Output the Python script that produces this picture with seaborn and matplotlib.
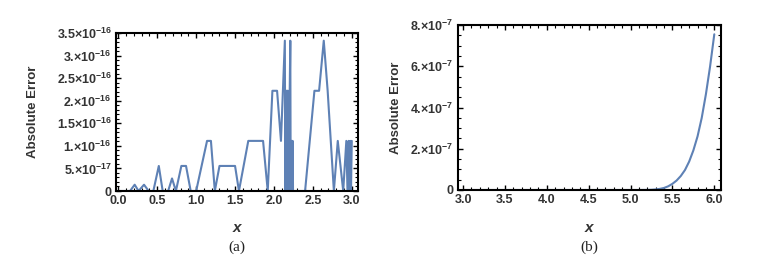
import numpy as np
import pandas as pd
import matplotlib
matplotlib.use("Agg")
import matplotlib.pyplot as plt
import seaborn as sns
from matplotlib.ticker import MultipleLocator

# ---- data (a): absolute error, x in [0,3], values in units of 1e-16
xa = [0.0, 0.15, 0.21, 0.26, 0.33, 0.39, 0.45, 0.52, 0.57, 0.64, 0.69, 0.74,
      0.81, 0.87, 0.93, 1.0, 1.14, 1.19, 1.24, 1.30, 1.50, 1.55, 1.67, 1.86,
      1.92, 1.98, 2.04, 2.09, 2.14, 2.145, 2.15, 2.155, 2.16, 2.165, 2.17,
      2.175, 2.18, 2.185, 2.19, 2.195, 2.21, 2.215, 2.22, 2.225, 2.23, 2.235,
      2.24, 2.245, 2.40, 2.52, 2.58, 2.64, 2.69, 2.77, 2.82, 2.89, 2.93,
      2.945, 2.96, 2.97, 2.98, 2.99, 3.0]
ya = [0, 0, 0.139, 0, 0.139, 0, 0, 0.555, 0, 0, 0.278, 0,
      0.555, 0.555, 0, 0, 1.11, 1.11, 0, 0.555, 0.555, 0, 1.11, 1.11,
      0, 2.22, 2.22, 1.11, 3.33, 0, 2.22, 0, 2.22, 0, 2.22,
      0, 2.22, 1.11, 0, 1.11, 3.33, 0, 1.11, 0, 1.11, 0,
      1.11, 0, 0, 2.22, 2.22, 3.33, 2.22, 0, 1.11, 0, 1.11,
      0, 1.11, 0, 1.11, 0, 1.11]
scale_a = 1e-16

# ---- data (b): absolute error, x in [3,6], values in units of 1e-7
xb = [3.0, 3.5, 4.0, 4.5, 5.0, 5.1, 5.2, 5.25, 5.3, 5.35, 5.4, 5.45, 5.5,
      5.55, 5.6, 5.65, 5.7, 5.75, 5.8, 5.85, 5.9, 5.95, 6.0]
yb = [0, 0, 0, 0, 0, 0.0003, 0.005, 0.012, 0.028, 0.055, 0.1, 0.18, 0.3,
      0.46, 0.68, 0.97, 1.38, 1.92, 2.6, 3.5, 4.65, 6.0, 7.55]
scale_b = 1e-7

ytick_a = [0, 0.5, 1.0, 1.5, 2.0, 2.5, 3.0, 3.5]
ytick_a_labels = ["0", r"5.$\times$10$^{-17}$", r"1.$\times$10$^{-16}$",
                  r"1.5$\times$10$^{-16}$", r"2.$\times$10$^{-16}$",
                  r"2.5$\times$10$^{-16}$", r"3.$\times$10$^{-16}$",
                  r"3.5$\times$10$^{-16}$"]
xtick_a = [0.0, 0.5, 1.0, 1.5, 2.0, 2.5, 3.0]
ytick_b = [0, 2, 4, 6, 8]
ytick_b_labels = ["0", r"2.$\times$10$^{-7}$", r"4.$\times$10$^{-7}$",
                  r"6.$\times$10$^{-7}$", r"8.$\times$10$^{-7}$"]
xtick_b = [3.0, 3.5, 4.0, 4.5, 5.0, 5.5, 6.0]

df_a = pd.DataFrame({"x": xa, "y": np.array(ya) * scale_a})
df_b = pd.DataFrame({"x": xb, "y": np.array(yb) * scale_b})

sns.set_style("white")
plt.rcParams["font.family"] = ["Liberation Sans", "DejaVu Sans"]
plt.rcParams["mathtext.fontset"] = "custom"
plt.rcParams["mathtext.rm"] = "Liberation Sans:bold"
plt.rcParams["mathtext.it"] = "Liberation Sans:bold"
plt.rcParams["mathtext.bf"] = "Liberation Sans:bold"

W, H = 773, 276
fig = plt.figure(figsize=(W / 100, H / 100), dpi=100)
fig.patch.set_facecolor("white")

line_color = "#5E81B5"
tick_col = "#333333"


def make_axes(l, r, t, b):
    return fig.add_axes([l / W, 1 - b / H, (r - l) / W, (b - t) / H])


def style(ax):
    for s in ax.spines.values():
        s.set_visible(True)
        s.set_color("black")
        s.set_linewidth(1.5)
    ax.tick_params(which="both", direction="in", top=True, right=True,
                   bottom=True, left=True, color="black")
    ax.tick_params(which="major", length=3.5, width=1.0, labelsize=9,
                   labelcolor=tick_col, pad=3)
    ax.tick_params(which="minor", length=2, width=0.8)
    for lab in ax.get_xticklabels() + ax.get_yticklabels():
        lab.set_fontweight("bold")


# panel (a)
ax1 = make_axes(116, 358, 33, 191)
sns.lineplot(data=df_a, x="x", y="y", ax=ax1, color=line_color, lw=1.5,
             estimator=None, sort=False)
ax1.set_xlim(-0.03, 3.08)
ax1.set_ylim(0, 3.5e-16)
ax1.set_xticks(xtick_a)
ax1.set_xticklabels([f"{v:.1f}" for v in xtick_a])
ax1.set_yticks(np.array(ytick_a) * scale_a)
ax1.set_yticklabels(ytick_a_labels)
ax1.xaxis.set_minor_locator(MultipleLocator(0.1))
ax1.yaxis.set_minor_locator(MultipleLocator(0.1e-16))
ax1.set_xlabel("")
ax1.set_ylabel("")
style(ax1)

# panel (b)
ax2 = make_axes(458, 721, 25, 190)
sns.lineplot(data=df_b, x="x", y="y", ax=ax2, color=line_color, lw=1.5,
             estimator=None, sort=False)
ax2.set_xlim(2.94, 6.08)
ax2.set_ylim(0, 8e-7)
ax2.set_xticks(xtick_b)
ax2.set_xticklabels([f"{v:.1f}" for v in xtick_b])
ax2.set_yticks(np.array(ytick_b) * scale_b)
ax2.set_yticklabels(ytick_b_labels)
ax2.xaxis.set_minor_locator(MultipleLocator(0.1))
ax2.yaxis.set_minor_locator(MultipleLocator(0.5e-7))
ax2.set_xlabel("")
ax2.set_ylabel("")
style(ax2)

# y labels
for cx, cy in [(33, 112), (396, 108)]:
    fig.text(cx / W, 1 - cy / H, "Absolute Error", rotation=90, ha="center",
             va="center", fontsize=9.5, fontweight="bold", color=tick_col)

# x labels and captions
for cx, cap in [(237, "(a)"), (589, "(b)")]:
    fig.text(cx / W, 1 - 228 / H, "x", ha="center", va="center", fontsize=11,
             fontweight="bold", fontstyle="italic", color=tick_col)
    fig.text(cx / W, 1 - 247 / H, cap, ha="center", va="center", fontsize=11,
             family=["Liberation Serif", "DejaVu Serif"], color="#222222")

fig.savefig("out.png", dpi=100, facecolor="white")
